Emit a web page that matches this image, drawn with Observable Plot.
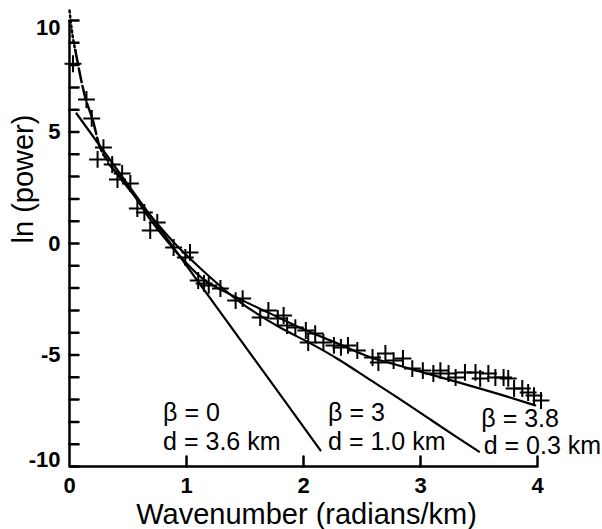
<!DOCTYPE html>
<html>
<head>
<meta charset="utf-8">
<script src="https://cdn.jsdelivr.net/npm/d3@7"></script>
<script src="https://cdn.jsdelivr.net/npm/@observablehq/plot@0.6"></script>
<style>
  html, body { margin: 0; padding: 0; background: #fff; }
  svg { display: block; }
</style>
</head>
<body>
<div id="chart"></div>
<script>
// Observed spectrum (crosses): wavenumber (radians/km), ln(power)
const obsK = [0.03,0.145,0.19,0.29,0.24,0.365,0.45,0.41,0.52,0.58,0.64,0.75,0.69,
  0.89,0.99,1.03,1.10,1.15,1.19,1.29,1.42,1.48,1.63,1.70,1.78,1.83,1.86,1.93,2.02,2.04,2.10,
  2.17,2.26,2.32,2.38,2.46,2.59,2.64,2.70,2.77,2.85,2.93,3.02,3.11,3.17,3.24,3.30,3.38,3.47,
  3.51,3.58,3.64,3.71,3.75,3.80,3.87,3.92,3.97,4.03];
const obsP = [8.06,6.46,5.61,4.30,3.77,3.54,3.14,2.87,2.69,1.57,1.39,0.94,0.58,
  -0.18,-0.63,-0.40,-1.66,-1.79,-1.88,-2.02,-2.56,-2.47,-3.32,-3.00,-3.36,-3.23,-3.68,-3.77,-3.90,-4.44,-4.04,
  -4.44,-4.57,-4.66,-4.57,-4.80,-5.11,-5.34,-4.93,-5.25,-5.16,-5.61,-5.70,-5.83,-5.70,-5.83,-6.01,-5.78,-5.78,
  -6.05,-5.83,-6.01,-6.01,-6.05,-6.50,-6.50,-6.68,-6.82,-7.04];

// Model curves
const beta0K = [0.06, 0.863, 1.70, 2.145];
const beta0P = [5.83, 0.0, -6.05, -9.28];

const beta3K = [0.35,0.5,0.7,0.9,1.12,1.44,1.8,2.06,2.3,2.55,2.83,3.1,3.3,3.5];
const beta3P = [3.5,2.5,1.2,0.0,-1.12,-2.56,-3.77,-4.48,-5.2,-6.05,-7.0,-7.95,-8.65,-9.33];

const beta38K = [0.33,0.5,0.7,0.9,1.12,1.44,1.7,2.0,2.3,2.57,2.8,3.0,3.34,3.7,3.98];
const beta38P = [3.6,2.55,1.0,-0.3,-1.5,-2.45,-3.1,-3.85,-4.5,-5.1,-5.45,-5.75,-6.25,-6.8,-7.26];

// Steep low-wavenumber part (dotted, then dashed)
const dottedK = [0.0, 0.02, 0.05];
const dottedP = [10.45, 9.55, 8.65];
const dashedK = [0.05, 0.137, 0.2, 0.25, 0.33];
const dashedP = [8.65, 6.5, 5.52, 4.48, 3.7];

// Axis ticks
const xTickLabels = [0, 1, 2, 3, 4];
const xTickMarks = [1, 2, 3, 4];
const yTickLabelsMid = [-5, 0, 5];
const yTickLabelTop = [10];
const yTickLabelBottom = [-10];
const yTickMarks = [-10,-9,-8,-7,-6,-5,-4,-3,-2,-1,0,1,2,3,4,5,6,7,8,9,10];

// Annotations (data coordinates of left edge / baseline)
const annText = ["β = 0", "d = 3.6 km", "β = 3", "d = 1.0 km", "β = 3.8", "d = 0.3 km"];
const annK = [0.80, 0.80, 2.21, 2.21, 3.52, 3.54];
const annP = [-7.94, -9.28, -7.94, -9.28, -8.25, -9.42];

const zip = (ks, ps) => ks.map((k, i) => ({k, p: ps[i]}));
const obs = zip(obsK, obsP);
const ann = annText.map((t, i) => ({t, k: annK[i], p: annP[i]}));

const W = 602, H = 529, ML = 69, MR = 65, MT = 20, MB = 63;
const X_DOMAIN = [0, 4], Y_DOMAIN = [-10, 10];
const frameW = W - ML - MR, frameH = H - MT - MB;
// inward tick lengths (pixels) converted to data units of each scale
const yTickLenData = 9 * (X_DOMAIN[1] - X_DOMAIN[0]) / frameW;
const xTickLenData = 10 * (Y_DOMAIN[1] - Y_DOMAIN[0]) / frameH;

// tick segments as two-point paths
const yTickSegs = yTickMarks.flatMap(v => [
  {id: "y" + v, k: X_DOMAIN[0], p: v},
  {id: "y" + v, k: X_DOMAIN[0] + yTickLenData, p: v}
]);
const xTickSegs = xTickMarks.flatMap(v => [
  {id: "x" + v, k: v, p: Y_DOMAIN[0]},
  {id: "x" + v, k: v, p: Y_DOMAIN[0] + xTickLenData}
]);

const FONT = "'Liberation Sans', Arial, Helvetica, sans-serif";
const lineOpts = {x: "k", y: "p", stroke: "black", strokeWidth: 2.2, curve: "monotone-x"};
const yLabelOpts = {anchor: "left", tickSize: 0, tickPadding: 9, fontSize: 22, fontWeight: "bold", fill: "black", tickFormat: d => String(d), label: null};

const chart = Plot.plot({
  width: W,
  height: H,
  marginLeft: ML,
  marginRight: MR,
  marginTop: MT,
  marginBottom: MB,
  style: {fontFamily: FONT},
  x: {domain: X_DOMAIN, axis: null},
  y: {domain: Y_DOMAIN, axis: null},
  marks: [
    Plot.axisY(yTickLabelsMid, yLabelOpts),
    Plot.axisY(yTickLabelTop, {...yLabelOpts, dy: 7}),
    Plot.axisY(yTickLabelBottom, {...yLabelOpts, dy: -7}),
    Plot.axisX(xTickLabels, {anchor: "bottom", tickSize: 0, tickPadding: 11, fontSize: 22, fontWeight: "bold", fill: "black", tickFormat: d => String(d), label: null}),
    Plot.line(zip(beta0K, beta0P), {...lineOpts, curve: "linear"}),
    Plot.line(zip(beta3K, beta3P), lineOpts),
    Plot.line(zip(beta38K, beta38P), lineOpts),
    Plot.line(zip(dottedK, dottedP), {...lineOpts, strokeWidth: 2.5, strokeDasharray: "2,3"}),
    Plot.line(zip(dashedK, dashedP), {...lineOpts, strokeWidth: 2.5, strokeDasharray: "14,4"}),
    Plot.dot(obs, {x: "k", y: "p", symbol: "plus", r: 5.5, stroke: "black", strokeWidth: 2}),
    Plot.text(ann, {x: "k", y: "p", text: "t", textAnchor: "start", lineAnchor: "bottom", fontSize: 25, fill: "black"}),
    Plot.text(["Wavenumber (radians/km)"], {frameAnchor: "bottom", dy: 48, dx: 3, fontSize: 29, fill: "black", lineAnchor: "middle"}),
    Plot.text(["ln (power)"], {frameAnchor: "left", dx: -46, rotate: -90, fontSize: 29, fill: "black", lineAnchor: "middle"}),
    Plot.ruleX([0], {stroke: "black", strokeWidth: 2.5}),
    Plot.ruleY([-10], {stroke: "black", strokeWidth: 2.5}),
    Plot.line(yTickSegs, {x: "k", y: "p", z: "id", stroke: "black", strokeWidth: 2.5}),
    Plot.line(xTickSegs, {x: "k", y: "p", z: "id", stroke: "black", strokeWidth: 2.5})
  ]
});
document.getElementById("chart").appendChild(chart);
</script>
</body>
</html>
